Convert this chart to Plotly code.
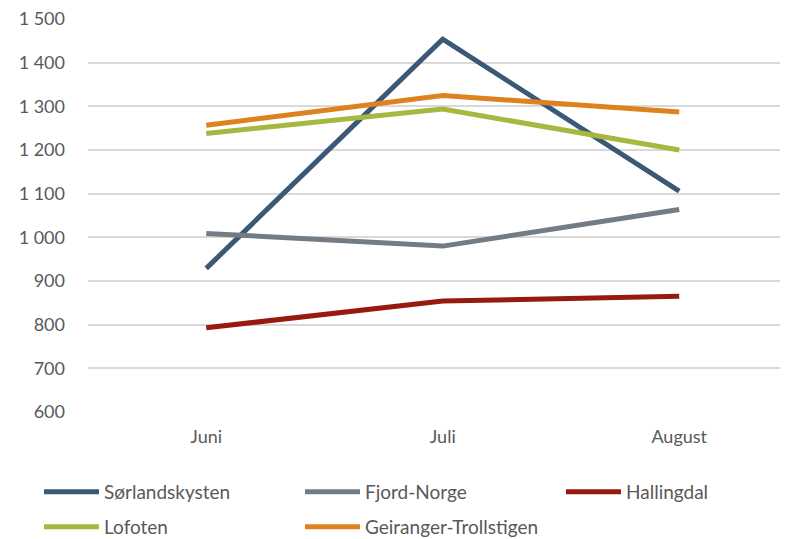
import plotly.graph_objects as go

months = ["Juni", "Juli", "August"]
series_names = ["Sørlandskysten", "Fjord-Norge", "Hallingdal", "Lofoten", "Geiranger-Trollstigen"]
sorlandskysten = [929, 1454, 1106]
fjord_norge = [1009, 980, 1064]
hallingdal = [793, 854, 865]
lofoten = [1238, 1294, 1200]
geiranger = [1257, 1325, 1287]
colors = ["#3B5877", "#737B84", "#981A0E", "#A6B83F", "#DE8220"]
legend_rows = ["legend", "legend", "legend", "legend2", "legend2"]

y_tickvals = [600, 700, 800, 900, 1000, 1100, 1200, 1300, 1400, 1500]
y_ticktext = ["600", "700", "800", "900", "1 000", "1 100", "1 200", "1 300", "1 400", "1 500"]

values = [sorlandskysten, fjord_norge, hallingdal, lofoten, geiranger]

fig = go.Figure()
for name, vals, col, lg in zip(series_names, values, colors, legend_rows):
    fig.add_trace(go.Scatter(
        x=months, y=vals, name=name, mode="lines",
        line=dict(color=col, width=5), legend=lg,
    ))

font_family = "Lato, 'Open Sans', sans-serif"
legend_common = dict(
    orientation="h", x=-0.07, xanchor="left", yanchor="middle",
    entrywidth=191, entrywidthmode="pixels",
    font=dict(size=19, color="#595959"),
    itemwidth=55, bgcolor="rgba(0,0,0,0)",
)
fig.update_layout(
    width=780, height=531,
    margin=dict(l=80, r=0, t=11, b=127, autoexpand=False),
    paper_bgcolor="white", plot_bgcolor="white",
    font=dict(family=font_family, color="#595959", size=18),
    showlegend=True,
    legend=dict(legend_common, y=-0.2036),
    legend2=dict(legend_common, y=-0.2926),
    xaxis=dict(
        type="category", range=[-0.5, 2.46],
        showgrid=False, showline=False, zeroline=False,
        ticks="", tickfont=dict(size=18, color="#595959"),
        ticklabelstandoff=12,
    ),
    yaxis=dict(
        range=[600, 1500.2], tickvals=y_tickvals, ticktext=y_ticktext,
        showgrid=True, gridcolor="#D9D9D9", gridwidth=1.5,
        zeroline=False, showline=False,
        tickfont=dict(size=18, color="#595959"),
        ticklabelstandoff=22, ticklabeloverflow="allow",
    ),
)

fig.write_html("out.html")
